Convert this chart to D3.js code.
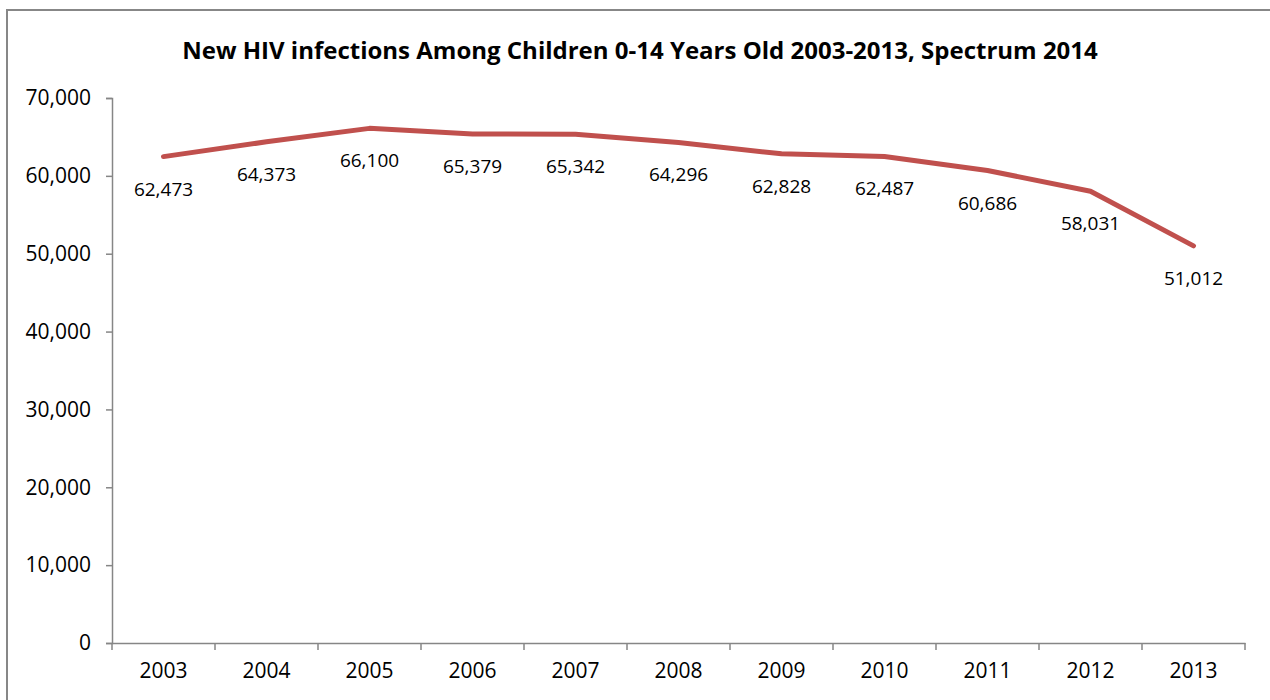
<!DOCTYPE html>
<html>
<head>
<meta charset="utf-8">
<script src="https://cdn.jsdelivr.net/npm/d3@7"></script>
<style>
  html, body { margin: 0; padding: 0; background: #fff; }
  svg { display: block; font-family: "Open Sans", "Noto Sans", sans-serif; }
</style>
</head>
<body>
<svg id="chart" width="1270" height="700"></svg>
<script>
const years = ["2003", "2004", "2005", "2006", "2007", "2008", "2009", "2010", "2011", "2012", "2013"];
const infections = [62473, 64373, 66100, 65379, 65342, 64296, 62828, 62487, 60686, 58031, 51012];
const yTicks = [0, 10000, 20000, 30000, 40000, 50000, 60000, 70000];
const titleText = "New HIV infections Among Children 0-14 Years Old 2003-2013, Spectrum 2014";

const svg = d3.select("#chart");
const axisColor = "#868686";
const lineColor = "#C0504D";

// chart frame
svg.append("rect")
  .attr("x", 7).attr("y", 10)
  .attr("width", 1275).attr("height", 710)
  .attr("fill", "#fff")
  .attr("stroke", "#878787").attr("stroke-width", 2);

const plot = { left: 112, right: 1245, top: 98, bottom: 643 };

const x = d3.scaleBand().domain(years).range([plot.left, plot.right]).padding(0);
const y = d3.scaleLinear().domain([0, 70000]).range([plot.bottom, plot.top]);
const fmt = d3.format(",");

// title
svg.append("text")
  .attr("x", 640).attr("y", 59)
  .attr("text-anchor", "middle")
  .attr("font-size", 24).attr("font-weight", "bold")
  .attr("fill", "#000")
  .text(titleText);

// y axis
const yAxis = svg.append("g")
  .attr("transform", `translate(${plot.left},0)`)
  .call(d3.axisLeft(y).tickValues(yTicks).tickFormat(fmt).tickSize(6).tickPadding(15));
yAxis.select(".domain").attr("stroke", axisColor).attr("stroke-width", 1.5);
yAxis.selectAll(".tick line").attr("stroke", axisColor).attr("stroke-width", 1.5);
yAxis.selectAll(".tick text").attr("font-size", 21).attr("fill", "#000")
  .attr("font-family", "\"Open Sans\", sans-serif");

// x axis with ticks on category boundaries
const xAxis = svg.append("g")
  .attr("transform", `translate(0,${plot.bottom})`)
  .call(d3.axisBottom(x).tickSize(0).tickPadding(20));
xAxis.select(".domain").attr("stroke", axisColor).attr("stroke-width", 1.5);
xAxis.selectAll(".tick text").attr("font-size", 21).attr("fill", "#000")
  .attr("font-family", "\"Open Sans\", sans-serif");
const boundaries = years.map(d => x(d)).concat([x(years[years.length - 1]) + x.bandwidth()]);
xAxis.selectAll("line.boundary")
  .data(boundaries)
  .enter().append("line")
  .attr("class", "boundary")
  .attr("x1", d => d).attr("x2", d => d)
  .attr("y1", 0).attr("y2", 7)
  .attr("stroke", axisColor).attr("stroke-width", 1.5);

// series line
const pts = years.map((d, i) => ({ year: d, value: infections[i] }));
const line = d3.line()
  .x(d => x(d.year) + x.bandwidth() / 2)
  .y(d => y(d.value));
svg.append("path")
  .datum(pts)
  .attr("fill", "none")
  .attr("stroke", lineColor)
  .attr("stroke-width", 5)
  .attr("stroke-linejoin", "round")
  .attr("stroke-linecap", "round")
  .attr("d", line);

// value labels below each point
svg.append("g").selectAll("text")
  .data(pts)
  .enter().append("text")
  .attr("x", d => x(d.year) + x.bandwidth() / 2)
  .attr("y", d => y(d.value) + 39)
  .attr("text-anchor", "middle")
  .attr("font-size", 19)
  .attr("fill", "#000")
  .text(d => fmt(d.value));
</script>
</body>
</html>
